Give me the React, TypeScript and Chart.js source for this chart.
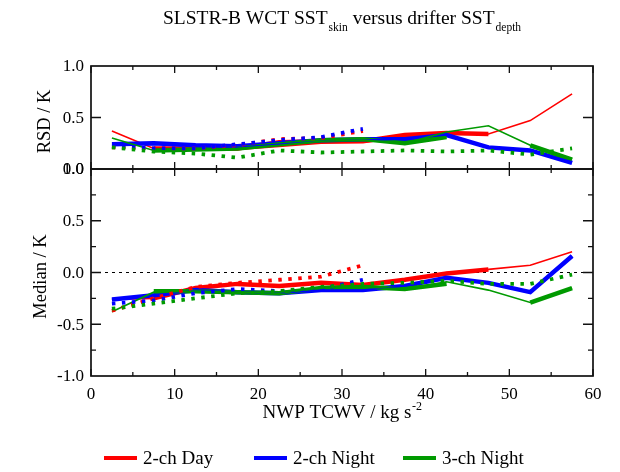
import React, { useEffect, useRef } from "react";
import { Chart, registerables } from "chart.js";

Chart.register(...registerables);

// ---------- data ----------
const tcwv = [2.5, 7.5, 12.5, 17.5, 22.5, 27.5, 32.5, 37.5, 42.5, 47.5, 52.5, 57.5];
const xTicks = [0, 10, 20, 30, 40, 50, 60];
const rsdTickLabels = [0.0, 0.5, 1.0];
const medTickLabels = [-1.0, -0.5, 0.0, 0.5, 1.0];
const legendLabels = ["2-ch Day", "2-ch Night", "3-ch Night"];

// RSD panel
const rsdDayThin = [0.37, 0.2, 0.19, 0.19, 0.22, 0.25, 0.26, 0.3, 0.34, 0.34, 0.47, 0.73];
const rsdDayThick = [null, 0.2, 0.2, 0.2, 0.26, 0.27, 0.27, 0.33, 0.35, 0.34, null, null];
const rsdDayDot = [0.21, 0.2, 0.2, 0.23, 0.29, 0.3, 0.37];
const rsdN2Thin = [0.23, 0.24, 0.22, 0.21, 0.24, 0.27, 0.28, 0.29, 0.33, 0.21, 0.18, 0.07];
const rsdN2Thick = [0.24, 0.25, 0.23, 0.22, 0.25, 0.28, 0.29, 0.29, 0.33, 0.21, 0.18, 0.06];
const rsdN2Dot = [0.22, 0.2, 0.2, 0.24, 0.28, 0.31, 0.39];
const rsdN3Thin = [0.3, 0.18, 0.19, 0.2, 0.23, 0.27, 0.28, 0.25, 0.36, 0.42, 0.23, 0.1];
const rsdN3Thick = [null, 0.18, 0.19, 0.2, 0.24, 0.28, 0.29, 0.25, 0.31, null, 0.23, 0.09];
const rsdN3Dot = [0.21, 0.17, 0.15, 0.11, 0.18, 0.16, 0.17, 0.18, 0.17, 0.18, 0.14, 0.2];

// Median panel
const medDayThin = [-0.26, -0.25, -0.16, -0.11, -0.13, -0.1, -0.13, -0.07, 0.0, 0.03, 0.07, 0.2];
const medDayThick = [null, -0.25, -0.15, -0.11, -0.13, -0.1, -0.12, -0.07, -0.01, 0.03, null, null];
const medDayDot = [-0.37, -0.25, -0.14, -0.1, -0.07, -0.04, 0.07];
const medN2Thin = [-0.26, -0.22, -0.17, -0.19, -0.2, -0.17, -0.17, -0.13, -0.05, -0.1, -0.19, 0.16];
const medN2Thick = [-0.26, -0.22, -0.17, -0.19, -0.2, -0.17, -0.17, -0.13, -0.05, -0.1, -0.19, 0.16];
const medN2Dot = [-0.3, -0.27, -0.2, -0.16, -0.18, -0.16, -0.07];
const medN3Thin = [-0.38, -0.19, -0.18, -0.19, -0.2, -0.15, -0.14, -0.16, -0.09, -0.17, -0.29, -0.15];
const medN3Thick = [null, -0.18, -0.18, -0.19, -0.2, -0.15, -0.14, -0.16, -0.11, null, -0.29, -0.15];
const medN3Dot = [-0.35, -0.3, -0.25, -0.2, -0.18, -0.14, -0.11, -0.1, -0.08, -0.11, -0.11, -0.02];

// ---------- styles ----------
const RED = "#ff0000";
const BLUE = "#0000ff";
const GREEN = "#009a00";
const SERIF = "'Liberation Serif', 'Times New Roman', serif";

type Kind = "thin" | "thick" | "dot";

function ds(data: (number | null)[], color: string, kind: Kind) {
  return {
    data: data.map((y, i) => ({ x: tcwv[i], y })),
    borderColor: color,
    backgroundColor: color,
    borderWidth: kind === "thick" ? 4.5 : kind === "thin" ? 1.6 : 3.8,
    borderDash: kind === "dot" ? [3.5, 6.5] : [],
    borderCapStyle: "butt" as const,
    pointRadius: 0,
    tension: 0,
    fill: false,
    spanGaps: false,
  };
}

function drawFrame(chart: any, yMajor: number[], yMinor: number[], yLabels: number[]) {
  const { ctx, chartArea, scales } = chart;
  const { left, right, top, bottom } = chartArea;
  const x = scales.x;
  const y = scales.y;
  ctx.save();
  ctx.strokeStyle = "#111";
  ctx.lineWidth = 1.7;
  ctx.setLineDash([]);
  ctx.strokeRect(left, top, right - left, bottom - top);
  ctx.lineWidth = 1.3;
  ctx.beginPath();
  for (let v = 0; v <= 60; v += 5) {
    const px = x.getPixelForValue(v);
    const len = v % 10 === 0 ? 7 : 4;
    ctx.moveTo(px, bottom);
    ctx.lineTo(px, bottom - len);
    ctx.moveTo(px, top);
    ctx.lineTo(px, top + len);
  }
  for (const v of yMajor) {
    const py = y.getPixelForValue(v);
    ctx.moveTo(left, py);
    ctx.lineTo(left + 10, py);
    ctx.moveTo(right, py);
    ctx.lineTo(right - 10, py);
  }
  for (const v of yMinor) {
    const py = y.getPixelForValue(v);
    ctx.moveTo(left, py);
    ctx.lineTo(left + 5, py);
    ctx.moveTo(right, py);
    ctx.lineTo(right - 5, py);
  }
  ctx.stroke();
  ctx.fillStyle = "#000";
  ctx.font = `17px ${SERIF}`;
  ctx.textAlign = "right";
  ctx.textBaseline = "middle";
  for (const v of yLabels) {
    ctx.fillText(v.toFixed(1), left - 7, y.getPixelForValue(v) + 1);
  }
  ctx.restore();
}

function drawRotated(ctx: CanvasRenderingContext2D, text: string, cx: number, cy: number) {
  ctx.save();
  ctx.translate(cx, cy);
  ctx.rotate(-Math.PI / 2);
  ctx.font = `18.5px ${SERIF}`;
  ctx.fillStyle = "#000";
  ctx.textAlign = "center";
  ctx.textBaseline = "alphabetic";
  ctx.fillText(text, 0, 0);
  ctx.restore();
}

const topPlugin = {
  id: "topDecor",
  afterDraw(chart: any) {
    drawFrame(chart, [0.5], [], rsdTickLabels);
    const ctx = chart.ctx as CanvasRenderingContext2D;
    drawRotated(ctx, "RSD / K", 50, (chart.chartArea.top + chart.chartArea.bottom) / 2 + 4);
    // title with subscripts
    const parts: [string, boolean][] = [
      ["SLSTR-B WCT SST", false],
      ["skin", true],
      [" versus drifter SST", false],
      ["depth", true],
    ];
    ctx.save();
    ctx.fillStyle = "#000";
    ctx.textBaseline = "alphabetic";
    ctx.textAlign = "left";
    const big = `19.5px ${SERIF}`;
    const small = `11.5px ${SERIF}`;
    let total = 0;
    for (const [t, sub] of parts) {
      ctx.font = sub ? small : big;
      total += ctx.measureText(t).width + (sub ? 1 : 0);
    }
    const cx = (chart.chartArea.left + chart.chartArea.right) / 2;
    let xpos = cx - total / 2;
    for (const [t, sub] of parts) {
      ctx.font = sub ? small : big;
      ctx.fillText(t, xpos + (sub ? 1 : 0), sub ? 31 : 24);
      xpos += ctx.measureText(t).width + (sub ? 1 : 0);
    }
    ctx.restore();
  },
};

const bottomPlugin = {
  id: "bottomDecor",
  beforeDatasetsDraw(chart: any) {
    const { ctx, chartArea, scales } = chart;
    const py = scales.y.getPixelForValue(0);
    ctx.save();
    ctx.strokeStyle = "#000";
    ctx.lineWidth = 1;
    ctx.setLineDash([3, 4]);
    ctx.beginPath();
    ctx.moveTo(chartArea.left, py);
    ctx.lineTo(chartArea.right, py);
    ctx.stroke();
    ctx.restore();
  },
  afterDraw(chart: any) {
    drawFrame(chart, [-0.5, 0, 0.5], [-0.75, -0.25, 0.25, 0.75], medTickLabels);
    const ctx = chart.ctx as CanvasRenderingContext2D;
    const { chartArea, scales } = chart;
    drawRotated(ctx, "Median / K", 46, (chartArea.top + chartArea.bottom) / 2 + 4);
    ctx.save();
    ctx.fillStyle = "#000";
    ctx.font = `17px ${SERIF}`;
    ctx.textAlign = "center";
    ctx.textBaseline = "alphabetic";
    for (const v of xTicks) {
      ctx.fillText(String(v), scales.x.getPixelForValue(v), chartArea.bottom + 23);
    }
    // x title with superscript
    const main = "NWP TCWV / kg s";
    const sup = "-2";
    ctx.font = `19px ${SERIF}`;
    const wMain = ctx.measureText(main).width;
    ctx.font = `12px ${SERIF}`;
    const wSup = ctx.measureText(sup).width;
    const cx = (chartArea.left + chartArea.right) / 2;
    const xs = cx - (wMain + wSup) / 2;
    ctx.textAlign = "left";
    ctx.font = `19px ${SERIF}`;
    ctx.fillText(main, xs, chartArea.bottom + 42);
    ctx.font = `12px ${SERIF}`;
    ctx.fillText(sup, xs + wMain + 0.5, chartArea.bottom + 34);
    // legend
    const colors = [RED, BLUE, GREEN];
    const starts = [104, 254, 403];
    const ly = 458;
    ctx.font = `19px ${SERIF}`;
    ctx.textBaseline = "middle";
    for (let i = 0; i < 3; i++) {
      ctx.strokeStyle = colors[i];
      ctx.lineWidth = 4;
      ctx.setLineDash([]);
      ctx.beginPath();
      ctx.moveTo(starts[i], ly);
      ctx.lineTo(starts[i] + 33, ly);
      ctx.stroke();
      ctx.fillStyle = "#000";
      ctx.fillText(legendLabels[i], starts[i] + 39, ly + 1);
    }
    ctx.restore();
  },
};

function makeChart(canvas: HTMLCanvasElement, datasets: any[], yMin: number, yMax: number, padding: any, plugin: any) {
  return new Chart(canvas, {
    type: "line",
    data: { datasets },
    options: {
      animation: false,
      responsive: false,
      devicePixelRatio: 1,
      layout: { padding },
      scales: {
        x: { type: "linear", min: 0, max: 60, display: false },
        y: { type: "linear", min: yMin, max: yMax, display: false },
      },
      plugins: {
        legend: { display: false },
        title: { display: false },
        tooltip: { enabled: false },
      },
    },
    plugins: [plugin],
  } as any);
}

export default function App() {
  const topRef = useRef<HTMLCanvasElement>(null);
  const botRef = useRef<HTMLCanvasElement>(null);

  useEffect(() => {
    document.body.style.margin = "0";
    const topSets = [
      ds(rsdN3Dot, GREEN, "dot"),
      ds(rsdN2Dot, BLUE, "dot"),
      ds(rsdDayDot, RED, "dot"),
      ds(rsdN3Thin, GREEN, "thin"),
      ds(rsdN2Thin, BLUE, "thin"),
      ds(rsdN3Thick, GREEN, "thick"),
      ds(rsdN2Thick, BLUE, "thick"),
      ds(rsdDayThick, RED, "thick"),
      ds(rsdDayThin, RED, "thin"),
    ];
    const botSets = [
      ds(medN3Dot, GREEN, "dot"),
      ds(medN2Dot, BLUE, "dot"),
      ds(medDayDot, RED, "dot"),
      ds(medN3Thin, GREEN, "thin"),
      ds(medN2Thin, BLUE, "thin"),
      ds(medN3Thick, GREEN, "thick"),
      ds(medN2Thick, BLUE, "thick"),
      ds(medDayThick, RED, "thick"),
      ds(medDayThin, RED, "thin"),
    ];
    const c1 = makeChart(topRef.current!, topSets, 0, 1, { left: 91, right: 27, top: 66, bottom: 303 }, topPlugin);
    const c2 = makeChart(botRef.current!, botSets, -1, 1, { left: 91, right: 27, top: 169, bottom: 96 }, bottomPlugin);
    return () => {
      c1.destroy();
      c2.destroy();
    };
  }, []);

  return (
    <div style={{ position: "relative", width: 620, height: 472, background: "#fff" }}>
      <canvas ref={topRef} width={620} height={472} style={{ position: "absolute", left: 0, top: 0 }} />
      <canvas ref={botRef} width={620} height={472} style={{ position: "absolute", left: 0, top: 0 }} />
    </div>
  );
}
